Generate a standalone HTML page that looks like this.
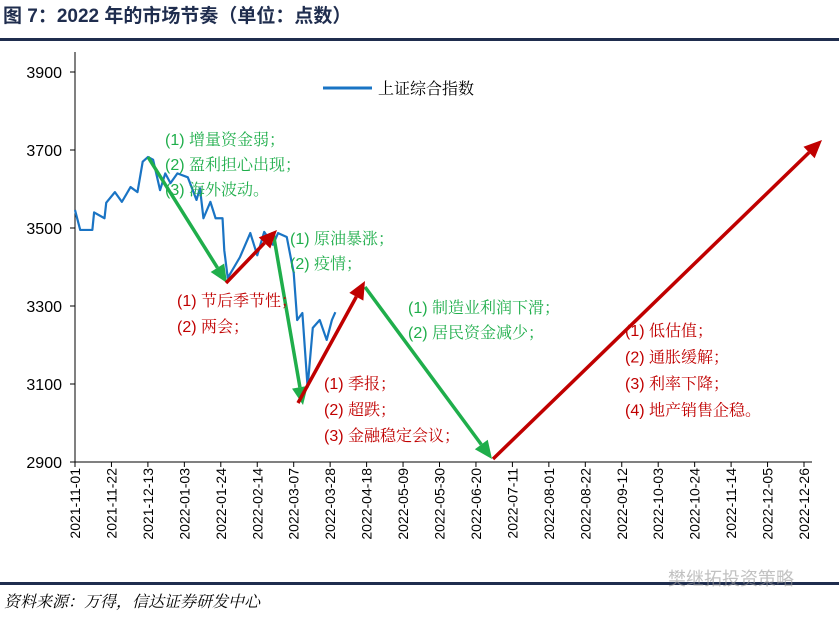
<!DOCTYPE html>
<html><head><meta charset="utf-8"><style>
body{margin:0;background:#fff;width:839px;height:617px;overflow:hidden;font-family:"Liberation Sans","Noto Sans CJK SC",sans-serif}
</style></head><body>
<svg width="839" height="617" xmlns="http://www.w3.org/2000/svg">
<text x="3" y="22" font-size="19" font-weight="bold" fill="#1f2d4e" font-family="Liberation Sans,Noto Sans CJK SC,sans-serif">图 7：2022 年的市场节奏（单位：点数）</text>
<rect x="0" y="38" width="839" height="3" fill="#1f2d4e"/>
<rect x="0" y="582" width="839" height="3" fill="#1f2d4e"/>
<text x="4" y="607" font-size="16" font-style="italic" fill="#000" font-family="Noto Serif CJK SC,serif">资料来源：万得，信达证券研发中心</text>
<text x="668" y="585" font-size="18" fill="#999" opacity="0.6" font-family="Noto Sans CJK SC,sans-serif">樊继拓投资策略</text>
<g id="axes"></g>
<g id="series"></g>
<g id="arrows"></g>
<g id="notes" font-family="Liberation Sans,Noto Serif CJK SC,serif" font-size="16"></g>
<line x1="323" y1="88" x2="372" y2="88" stroke="#1a74c4" stroke-width="3"/>
<text x="378" y="94" font-size="16" fill="#000" font-family="Noto Serif CJK SC,serif">上证综合指数</text>
</svg>
<script>
const yTicks=[2900,3100,3300,3500,3700,3900];
const xLabels=["2021-11-01","2021-11-22","2021-12-13","2022-01-03","2022-01-24","2022-02-14","2022-03-07","2022-03-28","2022-04-18","2022-05-09","2022-05-30","2022-06-20","2022-07-11","2022-08-01","2022-08-22","2022-09-12","2022-10-03","2022-10-24","2022-11-14","2022-12-05","2022-12-26"];
// day offsets from 2021-11-01 and index values
const days=[0,3,10,11,17,18,23,27,32,36,39,42,45,49,52,55,59,65,70,72,74,78,81,85,86,88,95,101,105,109,114,117,122,126,128,131,134,137,141,145,148,150];
const values=[3546,3495,3495,3540,3525,3565,3592,3567,3605,3592,3670,3682,3675,3597,3640,3615,3640,3630,3572,3602,3525,3567,3525,3525,3443,3372,3425,3487,3430,3490,3457,3487,3477,3385,3264,3282,3092,3244,3264,3213,3264,3284];
const arrowsG=[[148,157,227,283],[273,232,303,405],[365,287,492,459]];
const arrowsR=[[226,283,277,230],[298,403,365,281],[493,459,822,140]];
const NS="http://www.w3.org/2000/svg";
const x0=75,x1=804,yTop=72,yBot=462;
const xs=i=>x0+i*(x1-x0)/(xLabels.length-1);
const xd=d=>x0+d*(x1-x0)/((xLabels.length-1)*21);
const ys=v=>yBot-(v-2900)*(yBot-yTop)/1000;
function mk(t,a,p){const e=document.createElementNS(NS,t);for(const k in a)e.setAttribute(k,a[k]);(p||document.getElementById('axes')).appendChild(e);return e;}
let e=mk('line',{x1:x0,y1:52,x2:x0,y2:yBot,stroke:'#000','stroke-width':1});


e=mk('line',{x1:x0,y1:yBot,x2:812,y2:yBot,stroke:'#000','stroke-width':1});


yTicks.forEach(v=>{mk('line',{x1:x0-5,y1:ys(v),x2:x0,y2:ys(v),stroke:'#000'});
const t=mk('text',{x:x0-13,y:ys(v)+6,'text-anchor':'end','font-size':16,fill:'#000'});t.textContent=v;

});
xLabels.forEach((l,i)=>{const x=xs(i);mk('line',{x1:x,y1:yBot,x2:x,y2:yBot+5,stroke:'#000'});
const t=mk('text',{x:0,y:0,'text-anchor':'end','font-size':14,fill:'#000',transform:`translate(${x+5},468) rotate(-90)`});t.textContent=l;

});
const p=mk('polyline',{points:days.map((d,i)=>xd(d)+','+ys(values[i])).join(' '),fill:'none',stroke:'#1a74c4','stroke-width':2.2,'stroke-linejoin':'round'},document.getElementById('series'));


function arrow(a,c,name){const g=document.getElementById('arrows');const [ax1,ay1,ax2,ay2]=a;
const dx=ax2-ax1,dy=ay2-ay1,L=Math.hypot(dx,dy),ux=dx/L,uy=dy/L,h=18,w=8;
const bx=ax2-ux*h,by=ay2-uy*h;
mk('line',{x1:ax1,y1:ay1,x2:bx,y2:by,stroke:c,'stroke-width':3.5},g);
const t=mk('polygon',{points:`${ax2},${ay2} ${bx-uy*w},${by+ux*w} ${bx+uy*w},${by-ux*w}`,fill:c},g);

}
arrowsG.forEach(a=>arrow(a,'#1fae4b','down-arrow'));
arrowsR.forEach(a=>arrow(a,'#c00000','up-arrow'));
const notes=[["#1fae4b",165,145,["(1) 增量资金弱；","(2) 盈利担心出现；","(3) 海外波动。"],25],
["#1fae4b",290,244,["(1) 原油暴涨；","(2) 疫情；"],25],
["#c00000",177,306,["(1) 节后季节性；","(2) 两会；"],26],
["#c00000",324,389,["(1) 季报；","(2) 超跌；","(3) 金融稳定会议；"],26],
["#1fae4b",408,313,["(1) 制造业利润下滑；","(2) 居民资金减少；"],25],
["#c00000",625,336,["(1)  低估值；","(2)  通胀缓解；","(3)  利率下降；","(4) 地产销售企稳。"],26.5]];
notes.forEach(n=>n[3].forEach((s,i)=>{const t=mk('text',{x:n[1],y:n[2]+i*n[4],fill:n[0]},document.getElementById('notes'));t.textContent=s;

}));
</script>
</body></html>
